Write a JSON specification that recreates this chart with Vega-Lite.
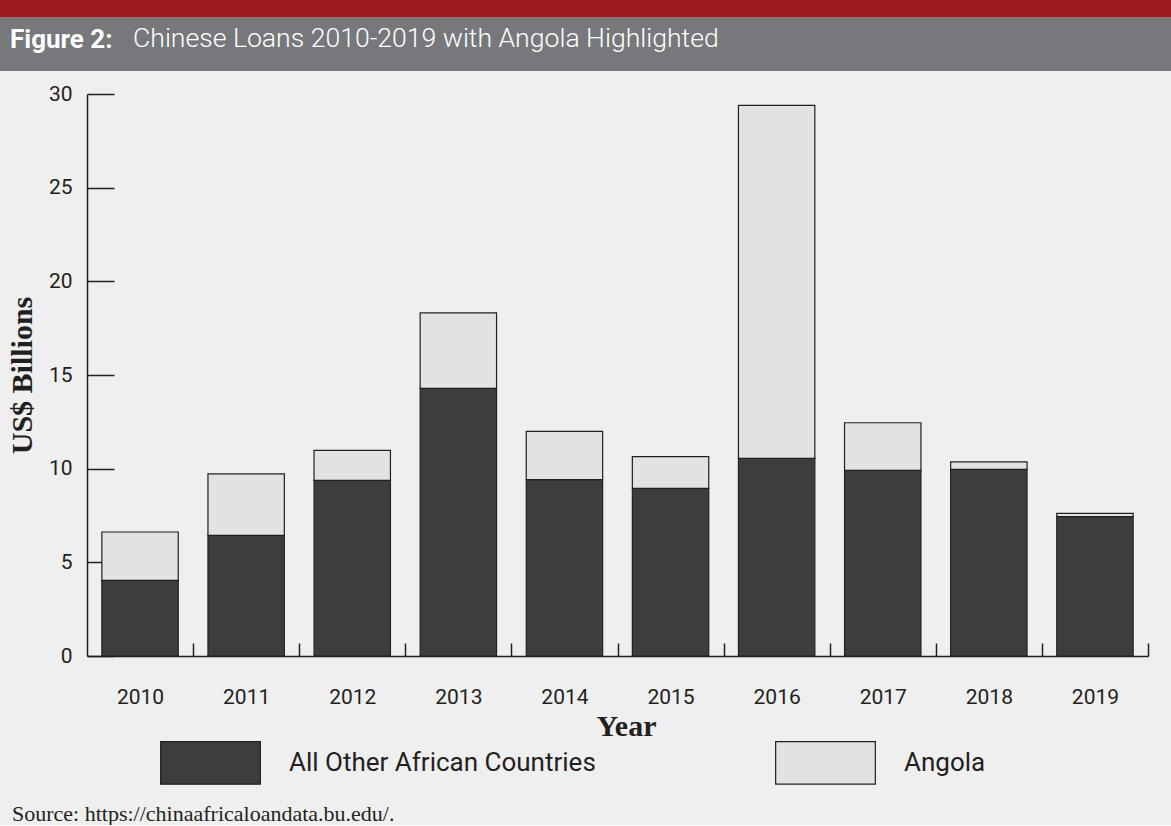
{
  "$schema": "https://vega.github.io/schema/vega-lite/v6.json",
  "background": "#efefef",
  "padding": 0,
  "spacing": 12,
  "title": {
    "text": "Figure 2:",
    "orient": "top",
    "anchor": "start",
    "frame": "group",
    "dx": 10,
    "offset": -53,
    "font": "Roboto",
    "fontSize": 26,
    "fontWeight": "bold",
    "color": "#ffffff"
  },
  "config": {
    "view": {"stroke": null},
    "axis": {
      "domainColor": "#231f20",
      "tickColor": "#231f20",
      "domainWidth": 1.5,
      "tickWidth": 1.5,
      "labelColor": "#231f20",
      "titleColor": "#231f20",
      "labelFont": "Roboto",
      "labelFontSize": 21,
      "titleFont": "Liberation Serif",
      "titleFontWeight": "bold",
      "titleFontSize": 30,
      "grid": false
    }
  },
  "vconcat": [
    {
      "width": 1171,
      "height": 71,
      "view": {
        "stroke": null,
        "fill": {
          "gradient": "linear",
          "x1": 0, "y1": 0, "x2": 0, "y2": 1,
          "stops": [
            {"offset": 0, "color": "#9b1b21"},
            {"offset": 0.2394, "color": "#9b1b21"},
            {"offset": 0.2394, "color": "#77787b"},
            {"offset": 1, "color": "#77787b"}
          ]
        }
      },
      "data": {"values": [{}]},
      "mark": {"type": "point", "opacity": 0},
      "encoding": {},
      "title": {
        "text": "Chinese Loans 2010-2019 with Angola Highlighted",
        "orient": "top",
        "anchor": "start",
        "frame": "group",
        "dx": 133,
        "offset": -53,
        "font": "Roboto",
        "fontSize": 26.6,
        "fontWeight": 300,
        "color": "#ffffff"
      }
    },
    {
      "width": 1148,
      "height": 562,
      "title": {
        "text": "Source: https://chinaafricaloandata.bu.edu/.",
        "orient": "bottom",
        "anchor": "start",
        "frame": "group",
        "font": "Liberation Serif",
        "fontSize": 22,
        "fontWeight": "normal",
        "color": "#231f20",
        "dx": 12,
        "offset": 80,
        "baseline": "alphabetic"
      },
      "data": {
        "values": [
          {"year": "2010", "group": "All Other African Countries", "value": 4.04},
          {"year": "2010", "group": "Angola", "value": 2.58},
          {"year": "2011", "group": "All Other African Countries", "value": 6.44},
          {"year": "2011", "group": "Angola", "value": 3.28},
          {"year": "2012", "group": "All Other African Countries", "value": 9.38},
          {"year": "2012", "group": "Angola", "value": 1.60},
          {"year": "2013", "group": "All Other African Countries", "value": 14.29},
          {"year": "2013", "group": "Angola", "value": 4.03},
          {"year": "2014", "group": "All Other African Countries", "value": 9.41},
          {"year": "2014", "group": "Angola", "value": 2.58},
          {"year": "2015", "group": "All Other African Countries", "value": 8.95},
          {"year": "2015", "group": "Angola", "value": 1.69},
          {"year": "2016", "group": "All Other African Countries", "value": 10.55},
          {"year": "2016", "group": "Angola", "value": 18.84},
          {"year": "2017", "group": "All Other African Countries", "value": 9.91},
          {"year": "2017", "group": "Angola", "value": 2.54},
          {"year": "2018", "group": "All Other African Countries", "value": 9.96},
          {"year": "2018", "group": "Angola", "value": 0.40},
          {"year": "2019", "group": "All Other African Countries", "value": 7.44},
          {"year": "2019", "group": "Angola", "value": 0.17}
        ]
      },
      "mark": {"type": "bar", "stroke": "#231f20", "strokeWidth": 1.2},
      "encoding": {
        "x": {
          "field": "year",
          "type": "ordinal",
          "scale": {"range": [87, 1148], "paddingInner": 0.28, "paddingOuter": 0.14},
          "axis": {
            "title": "Year",
            "labelAngle": 0,
            "tickOffset": 53.05,
            "labelOffset": -53.05,
            "tickSize": -13,
            "labelPadding": 60,
            "labelBaseline": "alphabetic",
            "titleX": 626,
            "titleY": 79,
            "titleBaseline": "alphabetic"
          }
        },
        "y": {
          "field": "value",
          "type": "quantitative",
          "stack": "zero",
          "scale": {"domain": [0, 30], "nice": false},
          "axis": {
            "title": "US$ Billions",
            "values": [0, 5, 10, 15, 20, 25, 30],
            "offset": -87,
            "tickSize": -27,
            "labelPadding": 42,
            "titleX": -65,
            "titleY": 281,
            "titleAngle": -90,
            "titleAlign": "center",
            "titleBaseline": "middle"
          }
        },
        "color": {
          "field": "group",
          "type": "nominal",
          "scale": {
            "domain": ["All Other African Countries", "Angola"],
            "range": ["#3d3d3d", "#e1e2e4"]
          },
          "legend": {
            "orient": "none",
            "legendX": 160,
            "legendY": 712,
            "direction": "horizontal",
            "title": null,
            "symbolType": "M-1,-0.426H1V0.426H-1Z",
            "symbolSize": 9940,
            "symbolStrokeColor": "#231f20",
            "symbolStrokeWidth": 1.2,
            "symbolOpacity": 1,
            "labelFont": "Roboto",
            "labelFontSize": 26,
            "labelColor": "#231f20",
            "labelOffset": 28,
            "labelLimit": 500,
            "columnPadding": 177,
            "padding": 0
          }
        },
        "order": {"field": "group", "type": "nominal", "sort": "ascending"}
      }
    }
  ]
}
